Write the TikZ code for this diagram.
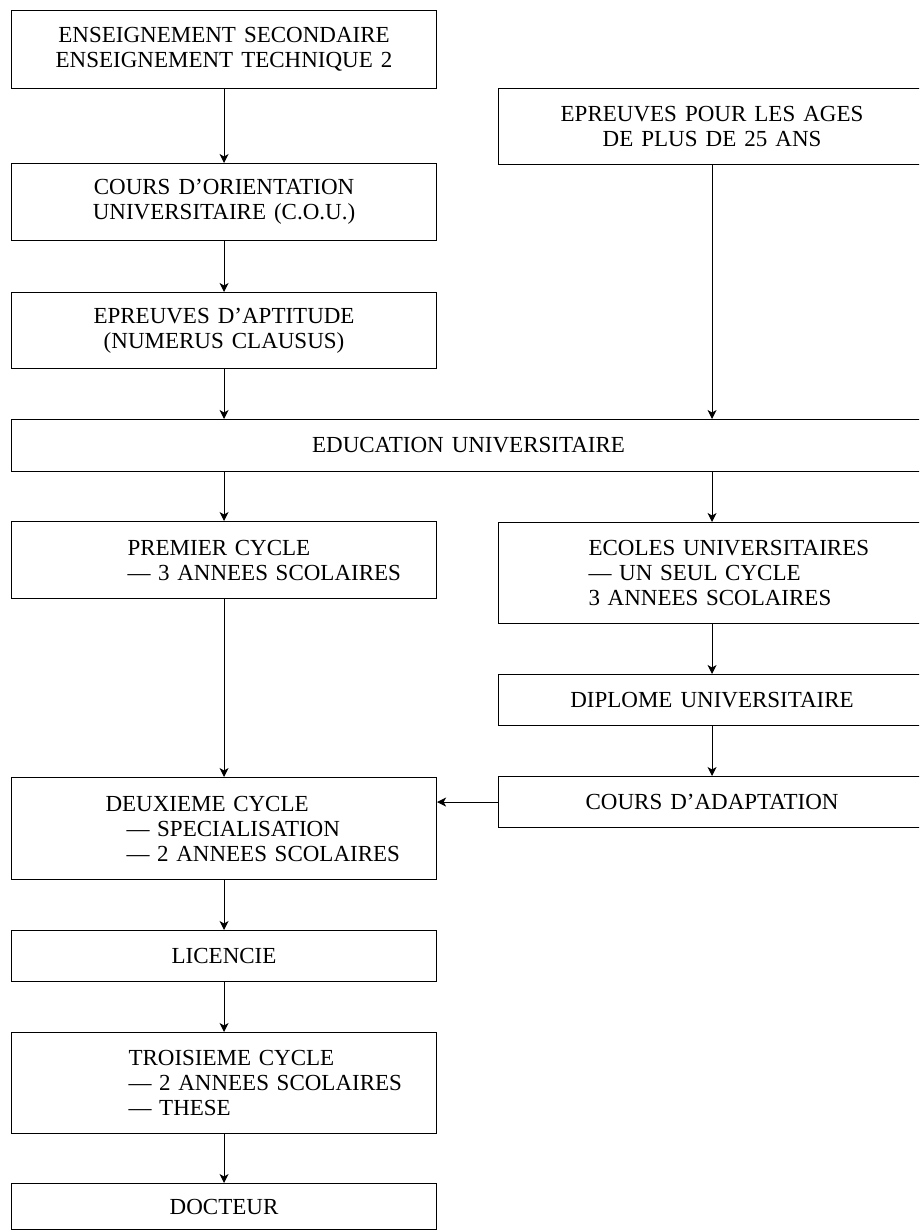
\documentclass[tikz,border=0pt]{standalone}
\usepackage{fontspec}
\setmainfont{Liberation Serif}[WordSpace=1.4]
\usepackage{tikz}
\usetikzlibrary{arrows.meta}

\begin{document}
\begin{tikzpicture}[
    x=1pt, y=-1pt,
    box/.style={rectangle, draw, line width=1.1pt, inner sep=0pt,
                anchor=north west, align=center,
                font=\fontsize{23}{25}\selectfont},
    leftbox/.style={box, text width=#1},
    indent/.style={align=left, execute at begin node={\leftskip=#1pt}},
    arrow/.style={-{Stealth[length=9pt, width=9pt, inset=2.5pt]}, line width=1pt}
  ]
    \useasboundingbox (0,0) rectangle (919,1230);
    \clip (0,0) rectangle (919,1230);

    % Left column, top
    \node[box, minimum width=425, minimum height=78] (secondaire) at (11,10)
      {ENSEIGNEMENT SECONDAIRE\\ENSEIGNEMENT TECHNIQUE 2};
    \node[box, minimum width=425, minimum height=77] (cou) at (11,163)
      {COURS D’ORIENTATION\\UNIVERSITAIRE (C.O.U.)};
    \node[box, minimum width=425, minimum height=76] (aptitude) at (11,292)
      {EPREUVES D’APTITUDE\\(NUMERUS CLAUSUS)};

    % Right column, top
    \node[box, minimum width=427, minimum height=76] (ages) at (498,88)
      {EPREUVES POUR LES AGES\\DE PLUS DE 25 ANS};

    % Full width
    \node[box, minimum width=914, minimum height=52] (education) at (11,419)
      {EDUCATION UNIVERSITAIRE};

    % Left column, bottom
    \node[leftbox=425, indent=116, minimum height=77] (premier) at (11,521)
      {PREMIER CYCLE\\— 3 ANNEES SCOLAIRES};
    \node[leftbox=425, indent=94, minimum height=102] (deuxieme) at (11,777)
      {DEUXIEME CYCLE\\\hspace*{21pt}— SPECIALISATION\\\hspace*{21pt}— 2 ANNEES SCOLAIRES};
    \node[box, minimum width=425, minimum height=51] (licencie) at (11,930)
      {LICENCIE};
    \node[leftbox=425, indent=117, minimum height=101] (troisieme) at (11,1032)
      {TROISIEME CYCLE\\— 2 ANNEES SCOLAIRES\\— THESE};
    \node[box, minimum width=425, minimum height=46] (docteur) at (11,1183)
      {DOCTEUR};

    % Right column, bottom
    \node[leftbox=427, indent=90, minimum height=101] (ecoles) at (498,522)
      {ECOLES UNIVERSITAIRES\\— UN SEUL CYCLE\\3 ANNEES SCOLAIRES};
    \node[box, minimum width=427, minimum height=51] (diplome) at (498,674)
      {DIPLOME UNIVERSITAIRE};
    \node[box, minimum width=427, minimum height=51] (adaptation) at (498,776)
      {COURS D’ADAPTATION};

    % Arrows
    \draw[arrow] (secondaire.south) -- (cou.north);
    \draw[arrow] (cou.south) -- (aptitude.north);
    \draw[arrow] (aptitude.south) -- (aptitude.south |- education.north);
    \draw[arrow] (ages.south) -- (ages.south |- education.north);
    \draw[arrow] (premier.north |- education.south) -- (premier.north);
    \draw[arrow] (ecoles.north |- education.south) -- (ecoles.north);
    \draw[arrow] (premier.south) -- (deuxieme.north);
    \draw[arrow] (ecoles.south) -- (diplome.north);
    \draw[arrow] (diplome.south) -- (adaptation.north);
    \draw[arrow] (adaptation.west) -- (adaptation.west -| deuxieme.east);
    \draw[arrow] (deuxieme.south) -- (licencie.north);
    \draw[arrow] (licencie.south) -- (troisieme.north);
    \draw[arrow] (troisieme.south) -- (docteur.north);
  \end{tikzpicture}
\end{document}
